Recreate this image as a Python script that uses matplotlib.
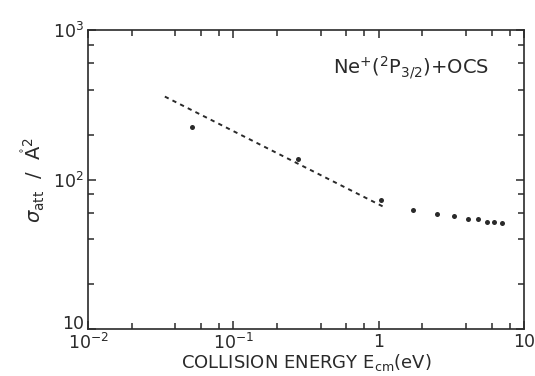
import matplotlib
matplotlib.use("Agg")
import matplotlib.pyplot as plt
import matplotlib.transforms as mtransforms
from matplotlib.ticker import FixedLocator, FixedFormatter, NullFormatter

# Data
energy = [0.052, 0.279, 1.04, 1.74, 2.54, 3.3, 4.14, 4.84, 5.54, 6.24, 7.06]
sigma = [225, 137, 73, 62.4, 58.6, 57.2, 54.7, 54.7, 52.3, 52.3, 51.4]

# Langevin-type dashed line (endpoints)
line_energy = [0.0338, 1.09]
line_sigma = [359, 65.5]

x_ticks = [0.01, 0.1, 1, 10]
x_labels = [r'$10^{-2}$', r'$10^{-1}$', '1', '10']
y_ticks = [10, 100, 1000]
y_labels = ['10', r'$10^{2}$', r'$10^{3}$']

col = '#2a2a2a'
plt.rcParams['mathtext.fontset'] = 'dejavusans'

fig = plt.figure(figsize=(5.35, 3.76), dpi=100)
ax = fig.add_axes([0.1645, 0.125, 0.8145, 0.795])

ax.plot(line_energy, line_sigma, linestyle=(0, (2.2, 2.2)), color=col, linewidth=1.4)
ax.plot(energy, sigma, 'o', color=col, markersize=3.6, markeredgewidth=0)

ax.set_xscale('log')
ax.set_yscale('log')
ax.set_xlim(0.01, 10)
ax.set_ylim(10, 1000)

minor_x = [m * d for d in [0.01, 0.1, 1] for m in (2, 4, 6, 8)]
minor_y = [m * d for d in [10, 100] for m in (2, 4, 6, 8)]
ax.xaxis.set_major_locator(FixedLocator(x_ticks))
ax.xaxis.set_major_formatter(FixedFormatter(x_labels))
ax.xaxis.set_minor_locator(FixedLocator(minor_x))
ax.xaxis.set_minor_formatter(NullFormatter())
ax.yaxis.set_major_locator(FixedLocator(y_ticks))
ax.yaxis.set_major_formatter(FixedFormatter(y_labels))
ax.yaxis.set_minor_locator(FixedLocator(minor_y))
ax.yaxis.set_minor_formatter(NullFormatter())

ax.tick_params(which='both', direction='in', top=True, right=True, color=col,
               labelcolor=col, labelsize=12.5, width=1.1)
ax.tick_params(which='major', length=6, pad=3)
ax.tick_params(which='minor', length=4)
for s in ax.spines.values():
    s.set_color(col)
    s.set_linewidth(1.2)

# lift the lowest y tick label a little so it sits above the corner
fig.canvas.draw()
ylabs = ax.get_yticklabels()
if ylabs:
    ylabs[0].set_transform(ylabs[0].get_transform() +
                           mtransforms.ScaledTranslation(0, 5 / 72, fig.dpi_scale_trans))

ax.set_xlabel(r'COLLISION ENERGY E$_{\rm cm}$(eV)', fontsize=13, color=col, labelpad=-1)
ax.set_ylabel(r'$\sigma_{\rm att}$  /  $\mathring{\rm A}^{2}$', fontsize=14, color=col, labelpad=4)

ax.text(0.92, 0.873, r'Ne$^{+}$($^{2}$P$_{3/2}$)+OCS', transform=ax.transAxes,
        ha='right', va='center', fontsize=14, color=col)

fig.savefig('out.png', dpi=100)
